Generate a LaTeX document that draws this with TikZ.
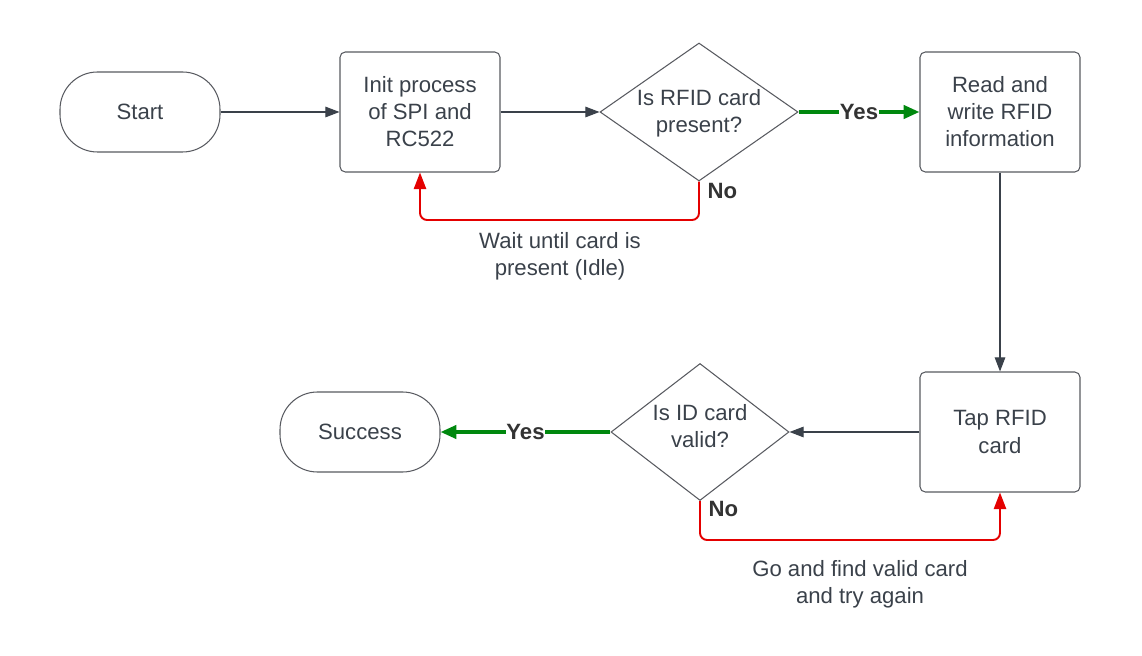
\documentclass[tikz,border=0pt]{standalone}
\usepackage{fontspec}
\setmainfont{Liberation Sans}
\usetikzlibrary{shapes.geometric,arrows.meta}

\definecolor{txtgray}{RGB}{58,65,74}
\definecolor{boxgray}{RGB}{88,90,96}
\definecolor{yesgreen}{RGB}{0,136,14}
\definecolor{nored}{RGB}{228,0,0}

\tikzset{
  every node/.style={font=\fontsize{12.6}{15.4}\selectfont, text=txtgray, align=center},
  termbox/.style={draw=boxgray, line width=0.6pt, rounded corners=0.75cm, minimum width=3.2cm, minimum height=1.6cm},
  procbox/.style={draw=boxgray, line width=0.6pt, rounded corners=3pt, minimum width=3.2cm, minimum height=2.4cm},
  askbox/.style={draw=boxgray, line width=0.6pt, diamond, inner sep=0pt},
  flow/.style={draw=txtgray, line width=0.6pt, -{Triangle[length=8pt,width=6pt]}},
  yesline/.style={draw=yesgreen, line width=2pt, -{Triangle[length=9pt,width=7.5pt]}},
  noline/.style={draw=nored, line width=1.1pt, rounded corners=4pt, -{Triangle[length=9.5pt,width=7pt]}},
  yeslab/.style={fill=white, inner sep=0.3pt, text=black!80, font=\fontsize{12.6}{15.4}\selectfont\bfseries},
  nolab/.style={text=black!80, font=\fontsize{12.6}{15.4}\selectfont\bfseries}
}

\begin{document}
\begin{tikzpicture}

\useasboundingbox (0,0) rectangle (22.84,13.1);

% top row
\node[termbox] (start) at (2.8,10.86) {Start};
\node[procbox] (init) at (8.4,10.86) {Init process\\of SPI and\\RC522};
\node[askbox, minimum width=3.96cm, minimum height=2.76cm] (d1) at (13.98,10.86) {};
\node at ([yshift=-0.02cm]d1) {Is RFID card\\present?};
\node[procbox] (read) at (20,10.86) {Read and\\write RFID\\information};

% bottom row
\node[procbox] (tap) at (20,4.46) {Tap RFID\\card};
\node[askbox, minimum width=3.56cm, minimum height=2.74cm] (d2) at (14,4.46) {};
\node at ([yshift=0.12cm]d2) {Is ID card\\valid?};
\node[termbox] (succ) at (7.2,4.46) {Success};

\draw[flow] (start) -- (init);
\draw[flow] (init) -- (d1.west);
\draw[yesline] (d1.east) -- node[yeslab] {Yes} (read.west);
\draw[flow] (read) -- (tap);
\draw[flow] (tap) -- (d2.east);
\draw[yesline] (d2.west) -- node[yeslab] {Yes} (succ.east);

% loops back
\coordinate (w1) at (11.2,8.7);
\coordinate (w2) at (17.2,2.3);
\draw[noline] (d1.south) |- (w1) -| (init.south);
\draw[noline] (d2.south) |- (w2) -| (tap.south);

\node[nolab, right] at ([xshift=0.05cm,yshift=-0.18cm]d1.south) {No};
\node[nolab, right] at ([xshift=0.05cm,yshift=-0.16cm]d2.south) {No};
\node at (11.2,7.98) {Wait until card is\\present (Idle)};
\node at (17.2,1.42) {Go and find valid card\\and try again};

\end{tikzpicture}
\end{document}
